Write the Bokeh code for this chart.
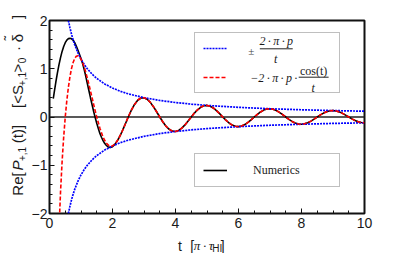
from math import pi
from bokeh.plotting import figure
from bokeh.layouts import row, column
from bokeh.models import Range1d, SingleIntervalTicker, Span, Legend, LegendItem
from bokeh.core.properties import value
from bokeh.embed import file_html
from bokeh.resources import INLINE

# ---------------- data ----------------
x_ticks_interval = 2
y_ticks = [-2, -1, 0, 1, 2]
y_tick_labels = ["\u22122", "\u22121", "0", "1", "2"]

# envelope  +/- 2*pi*p / t
t_env = [0.6, 0.65, 0.7, 0.75, 0.8, 0.9, 1.0, 1.1, 1.2, 1.35, 1.5, 1.75, 2.0,
         2.25, 2.5, 3.0, 3.5, 4.0, 4.5, 5.0, 6.0, 7.0, 8.0, 9.0, 10.0]
env_upper = [2.0, 1.846, 1.714, 1.6, 1.5, 1.333, 1.2, 1.091, 1.0, 0.889, 0.8,
             0.686, 0.6, 0.533, 0.48, 0.4, 0.343, 0.3, 0.267, 0.24, 0.2, 0.171,
             0.15, 0.133, 0.12]
env_lower = [-v for v in env_upper]

# asymptotic  -2*pi*p*cos(t)/t
t_asym = [0.30, 0.35, 0.40, 0.45, 0.50, 0.55, 0.60, 0.65, 0.70, 0.75, 0.80,
          0.85, 0.90, 0.95, 1.00, 1.05, 1.10, 1.15, 1.20, 1.25, 1.30, 1.35,
          1.40, 1.45, 1.50,
          1.6, 1.7, 1.8, 1.9, 2.0, 2.1, 2.2, 2.3, 2.4, 2.5,
          2.6, 2.7, 2.8, 2.9, 3.0, 3.1, 3.2, 3.3, 3.4, 3.5,
          3.6, 3.7, 3.8, 3.9, 4.0, 4.1, 4.2, 4.3, 4.4, 4.5,
          4.6, 4.7, 4.8, 4.9, 5.0, 5.1, 5.2, 5.3, 5.4, 5.5,
          5.6, 5.7, 5.8, 5.9, 6.0, 6.1, 6.2, 6.3, 6.4, 6.5,
          6.6, 6.7, 6.8, 6.9, 7.0, 7.1, 7.2, 7.3, 7.4, 7.5,
          7.6, 7.7, 7.8, 7.9, 8.0, 8.1, 8.2, 8.3, 8.4, 8.5,
          8.6, 8.7, 8.8, 8.9, 9.0, 9.1, 9.2, 9.3, 9.4, 9.5,
          9.6, 9.7, 9.8, 9.9, 10.0]
asym = [-2.351, -1.557, -0.927, -0.417, 0.000, 0.341, 0.618, 0.838, 1.008,
        1.131, 1.214, 1.258, 1.268, 1.248, 1.200, 1.129, 1.038, 0.930, 0.809,
        0.679, 0.543, 0.404, 0.265, 0.129, 0.000,
        -0.232, -0.415, -0.539, -0.601, -0.600, -0.543, -0.441, -0.307, -0.155, 0.000,
        0.143, 0.261, 0.347, 0.394, 0.400, 0.368, 0.303, 0.214, 0.109, 0.000,
        -0.103, -0.191, -0.255, -0.293, -0.300, -0.278, -0.231, -0.164, -0.084, 0.000,
        0.081, 0.150, 0.202, 0.233, 0.240, 0.224, 0.187, 0.133, 0.069, 0.000,
        -0.066, -0.124, -0.167, -0.193, -0.200, -0.187, -0.157, -0.112, -0.058, 0.000,
        0.056, 0.105, 0.143, 0.165, 0.171, 0.161, 0.135, 0.097, 0.050, 0.000,
        -0.049, -0.092, -0.124, -0.144, -0.150, -0.141, -0.118, -0.085, -0.044, 0.000,
        0.043, 0.081, 0.110, 0.128, 0.133, 0.125, 0.106, 0.076, 0.039, 0.000,
        -0.039, -0.073, -0.099, -0.115, -0.120]

# numerics
t_num = [0.12, 0.15, 0.20, 0.25, 0.30, 0.35, 0.40, 0.45, 0.50, 0.55, 0.60,
         0.65, 0.70, 0.75, 0.80, 0.85, 0.90, 0.95, 1.00, 1.05, 1.10, 1.15,
         1.20, 1.25, 1.30, 1.35, 1.40, 1.45, 1.50, 1.55, 1.60, 1.65, 1.70,
         1.75, 1.80, 1.85, 1.90, 1.95, 2.00, 2.05, 2.10, 2.15, 2.20, 2.25,
         2.30, 2.35, 2.40, 2.45, 2.50,
         2.6, 2.7, 2.8, 2.9, 3.0, 3.1, 3.2, 3.3, 3.4, 3.5,
         3.6, 3.7, 3.8, 3.9, 4.0, 4.1, 4.2, 4.3, 4.4, 4.5,
         4.6, 4.7, 4.8, 4.9, 5.0, 5.1, 5.2, 5.3, 5.4, 5.5,
         5.6, 5.7, 5.8, 5.9, 6.0, 6.1, 6.2, 6.3, 6.4, 6.5,
         6.6, 6.7, 6.8, 6.9, 7.0, 7.1, 7.2, 7.3, 7.4, 7.5,
         7.6, 7.7, 7.8, 7.9, 8.0, 8.1, 8.2, 8.3, 8.4, 8.5,
         8.6, 8.7, 8.8, 8.9, 9.0, 9.1, 9.2, 9.3, 9.4, 9.5,
         9.6, 9.7, 9.8, 9.9, 10.0]
numerics = [0.38, 0.51, 0.72, 0.91, 1.08, 1.23, 1.36, 1.46, 1.54, 1.595, 1.625,
            1.63, 1.62, 1.59, 1.54, 1.47, 1.39, 1.30, 1.21, 1.11, 0.99, 0.85,
            0.70, 0.55, 0.40, 0.26, 0.12, -0.01, -0.13, -0.24, -0.34, -0.42,
            -0.49, -0.545, -0.585, -0.615, -0.63, -0.63, -0.615, -0.585,
            -0.545, -0.495, -0.44, -0.375, -0.305, -0.23, -0.155, -0.078, 0.0,
            0.143, 0.261, 0.347, 0.394, 0.400, 0.368, 0.303, 0.214, 0.109, 0.000,
            -0.103, -0.191, -0.255, -0.293, -0.300, -0.278, -0.231, -0.164, -0.084, 0.000,
            0.081, 0.150, 0.202, 0.233, 0.240, 0.224, 0.187, 0.133, 0.069, 0.000,
            -0.066, -0.124, -0.167, -0.193, -0.200, -0.187, -0.157, -0.112, -0.058, 0.000,
            0.056, 0.105, 0.143, 0.165, 0.171, 0.161, 0.135, 0.097, 0.050, 0.000,
            -0.049, -0.092, -0.124, -0.144, -0.150, -0.141, -0.118, -0.085, -0.044, 0.000,
            0.043, 0.081, 0.110, 0.128, 0.133, 0.125, 0.106, 0.076, 0.039, 0.000,
            -0.039, -0.073, -0.099, -0.115, -0.120]

# ---------------- layout (pixel positions in the picture) ----------------
YL_W = 28                  # strip for the rotated y label
W, H = 372, 233            # main plot
BL, BR, BT, BB = 20, 36, 20, 20
XL_H = 20                  # strip for the x label
X0, X1, Y0, Y1 = 0, 10, -2, 2
FW, FH = W - BL - BR, H - BT - BB
SX, SY = FW / (X1 - X0), FH / (Y1 - Y0)
FL = YL_W + BL             # frame left in picture pixels


def dx(px):
    return X0 + (px - FL) / SX


def dy(py):
    return Y1 - (py - BT) / SY


INK = "#1a1a1a"
SANS = "Liberation Sans"
SERIF = "Liberation Serif"
TS = "\u2009"


def strip(w, h, xr, yr):
    f = figure(width=w, height=h, output_backend="svg", toolbar_location=None,
               x_range=Range1d(*xr), y_range=Range1d(*yr),
               x_axis_type=None, y_axis_type=None, min_border=0)
    f.outline_line_color = None
    f.background_fill_color = "white"
    f.border_fill_color = "white"
    f.xgrid.grid_line_color = None
    f.ygrid.grid_line_color = None
    return f


def txt(f, xs, ys, texts, size, font=SANS, style="normal", angle=0, color=INK):
    f.text(x=xs, y=ys, text=texts, text_font=value(font),
           text_font_size=value(size), text_font_style=style,
           text_color=color, text_align="center", text_baseline="middle",
           angle=angle)


# ---------------- main plot ----------------
p = figure(width=W, height=H, output_backend="svg", toolbar_location=None,
           x_range=Range1d(X0, X1), y_range=Range1d(Y0, Y1),
           min_border_left=BL, min_border_right=BR, min_border_top=BT,
           min_border_bottom=BB)
p.background_fill_color = "white"
p.border_fill_color = "white"
p.outline_line_color = "#111111"
p.outline_line_width = 2
p.xgrid.grid_line_color = None
p.ygrid.grid_line_color = None

p.xaxis.ticker = SingleIntervalTicker(interval=x_ticks_interval, num_minor_ticks=4)
p.yaxis.ticker = SingleIntervalTicker(interval=1, num_minor_ticks=5)
p.yaxis.major_label_overrides = {k: v for k, v in zip(y_ticks, y_tick_labels)}
for ax in (p.xaxis, p.yaxis):
    ax.axis_line_color = None
    ax.major_tick_in = 5
    ax.major_tick_out = 0
    ax.minor_tick_in = 3
    ax.minor_tick_out = 0
    ax.major_tick_line_color = "#111111"
    ax.minor_tick_line_color = "#111111"
    ax.major_label_text_font = SANS
    ax.major_label_text_font_size = "14px"
    ax.major_label_text_color = INK
p.xaxis.major_label_standoff = 4
p.yaxis.major_label_standoff = 2

p.add_layout(Span(location=0, dimension="width", line_color="#222222",
                  line_width=1.5, level="underlay"))

r_num = p.line(t_num, numerics, line_color="black", line_width=1.6)
r_up = p.line(t_env, env_upper, line_color="#0000ff", line_width=1.7, line_dash="2 1")
r_lo = p.line(t_env, env_lower, line_color="#0000ff", line_width=1.7, line_dash="2 1")
r_asym = p.line(t_asym, asym, line_color="#ff0000", line_width=1.6, line_dash="4 2")

# legends (boxes + sample lines), formulas drawn as text glyphs inside box 1
leg1 = Legend(items=[LegendItem(label=" ", renderers=[r_up]),
                     LegendItem(label=" ", renderers=[r_asym])],
              location=(145, 120), padding=8, spacing=15, margin=0,
              glyph_width=24, glyph_height=14, label_height=14,
              label_width=104, label_standoff=0, label_text_font_size="10px",
              border_line_color="#808080", border_line_width=1,
              background_fill_alpha=0)
leg2 = Legend(items=[LegendItem(label="Numerics", renderers=[r_num])],
              location=(145, 26), padding=8, spacing=0, margin=0,
              glyph_width=24, glyph_height=16, label_height=16,
              label_width=78, label_standoff=26,
              label_text_font=SERIF, label_text_font_size="12px",
              label_text_color="#222222",
              border_line_color="#808080", border_line_width=1,
              background_fill_color="white", background_fill_alpha=1)
p.add_layout(leg1, "center")
p.add_layout(leg2, "center")

num_txt = "2" + TS + "\u00b7" + TS + "\u03c0" + TS + "\u00b7" + TS + "p"
red_txt = "\u2212" + "2" + TS + "\u00b7" + TS + "\u03c0" + TS + "\u00b7" + TS + "p" + TS + "\u00b7"
txt(p, [dx(250.5)], [dy(50)], ["\u00b1"], "11px", SERIF, color="#444444")
txt(p, [dx(275.5), dx(275), dx(273), dx(312.5)],
    [dy(40.5), dy(58.5), dy(77), dy(87.5)],
    [num_txt, "t", red_txt, "t"], "12px", SERIF, "italic")
txt(p, [dx(313)], [dy(70.5)], ["cos(t)"], "12px", SERIF)
p.segment(x0=[dx(259), dx(298)], y0=[dy(48.3), dy(76.7)],
          x1=[dx(292), dx(328)], y1=[dy(48.3), dy(76.7)],
          line_color="#222222", line_width=1)

# ---------------- y label strip ----------------
ylab = strip(YL_W, BT + FH + BB + XL_H, (0, YL_W), (BT + FH + BB + XL_H, 0))
A = pi / 2
txt(ylab, [17, 17, 17, 17, 17, 17, 17], [183.5, 133.5, 96, 67.5, 48, 37.5, 16.5],
    ["Re[", "(t)]", "[<S", ">", "\u00b7", "\u03b4", "]"], "15px", angle=A)
txt(ylab, [9], [37.5], ["\u02dc"], "13px", angle=A)
txt(ylab, [17], [165], ["P"], "15px", style="italic", angle=A)
txt(ylab, [21, 21, 21], [153.5, 78.5, 60], ["+,1", "+,1", "0"], "10px", angle=A)

# ---------------- x label strip ----------------
xlab = strip(W, XL_H, (YL_W, YL_W + W), (H + XL_H, H))
txt(xlab, [182, 196.5, 232.5], [245, 245, 245], ["t", "[", "]"], "14px")
txt(xlab, [210], [245], ["\u03c0" + TS + "\u00b7" + TS + "\u03c4"], "13px", SERIF, "italic")
txt(xlab, [226], [248], ["HI"], "10px")

layout = row(ylab, column(p, xlab, spacing=0), spacing=0)
open("out.html", "w").write(file_html(layout, INLINE))
